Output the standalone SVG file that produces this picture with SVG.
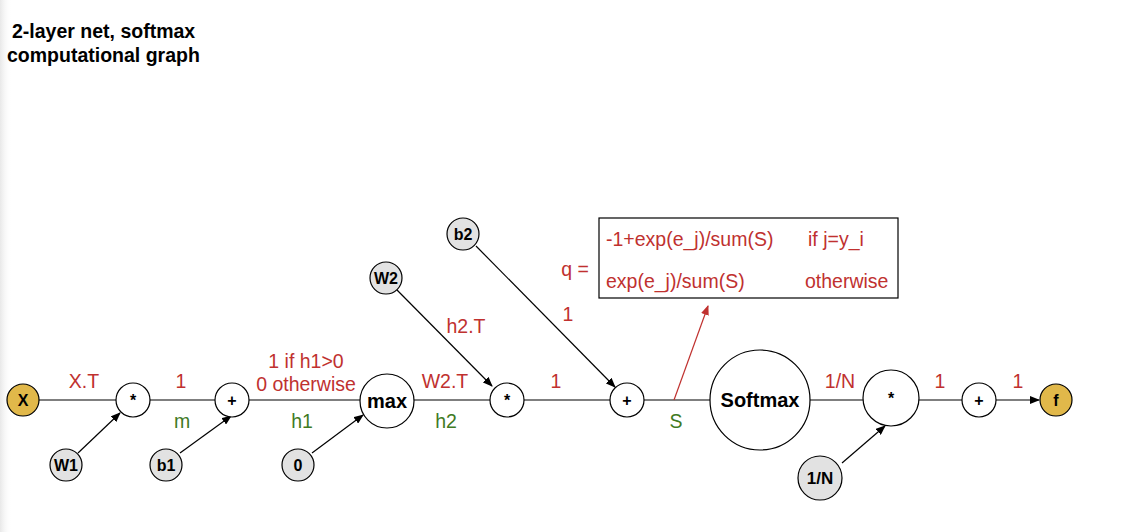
<svg xmlns="http://www.w3.org/2000/svg" width="1141" height="532" viewBox="0 0 1141 532">
<defs>
<marker id="ah" markerWidth="10" markerHeight="8" refX="9" refY="4" orient="auto" markerUnits="userSpaceOnUse"><path d="M0,0 L10,4 L0,8 z" fill="#000"/></marker>
<marker id="ahr" markerWidth="10" markerHeight="8" refX="9" refY="4" orient="auto" markerUnits="userSpaceOnUse"><path d="M0,0 L10,4 L0,8 z" fill="#c0312f"/></marker>
<linearGradient id="lg" x1="0" x2="1" y1="0" y2="0"><stop offset="0" stop-color="#e8e8e8"/><stop offset="1" stop-color="#fff" stop-opacity="0"/></linearGradient>
<style>
.n{stroke:#000;stroke-width:1.2;fill:#fff}
.g{fill:#e2e2e2}
.y{fill:#e1b84a}
.t{font-family:"Liberation Sans",Arial,sans-serif;font-weight:bold;text-anchor:middle;font-size:16px}
.big{font-size:20px}
.mid{font-size:17px}
.l{font-family:"Liberation Sans",Arial,sans-serif;font-size:19.5px;text-anchor:middle}
.s{text-anchor:start}
.r{fill:#c0312f}
.gr{fill:#3f7a1f}
.c{stroke:#000;stroke-width:1.2;fill:none}
</style>
</defs>
<rect width="1141" height="532" fill="#fff"/>
<rect width="12" height="532" fill="url(#lg)"/>
<g id="title" font-family="'Liberation Sans',Arial,sans-serif" font-weight="bold" font-size="19.5">
<text x="12" y="38">2-layer net, softmax</text>
<text x="7" y="62">computational graph</text>
</g>
<g id="connectors">
<line class="c" x1="39" y1="400" x2="116" y2="400"/>
<line class="c" x1="150" y1="400" x2="215" y2="400"/>
<line class="c" x1="249" y1="400" x2="360" y2="400"/>
<line class="c" x1="414" y1="400" x2="490" y2="400"/>
<line class="c" x1="524" y1="400" x2="610" y2="400"/>
<line class="c" x1="644" y1="400" x2="710" y2="400"/>
<line class="c" x1="810" y1="400" x2="863" y2="400"/>
<line class="c" x1="919" y1="400" x2="962" y2="400"/>
<line class="c" x1="996" y1="400" x2="1039" y2="400" marker-end="url(#ah)"/>
<line class="c" x1="78" y1="453" x2="120" y2="413" marker-end="url(#ah)"/>
<line class="c" x1="180" y1="453" x2="231" y2="416" marker-end="url(#ah)"/>
<line class="c" x1="312" y1="453" x2="363" y2="415" marker-end="url(#ah)"/>
<line class="c" x1="397" y1="290" x2="492" y2="386" marker-end="url(#ah)"/>
<line class="c" x1="476" y1="246" x2="615" y2="387" marker-end="url(#ah)"/>
<line class="c" x1="842" y1="463" x2="885" y2="426" marker-end="url(#ah)"/>
<line x1="674" y1="400" x2="708" y2="306" stroke="#c0312f" stroke-width="1.2" marker-end="url(#ahr)"/>
</g>
<g id="X"><circle class="n y" cx="23" cy="400" r="16"/><text class="t" x="23" y="406">X</text></g>
<g id="mul1"><circle class="n" cx="133" cy="400" r="17"/><text class="t" x="133" y="406">*</text></g>
<g id="add1"><circle class="n" cx="232" cy="400" r="17"/><text class="t" x="232" y="406">+</text></g>
<g id="max"><circle class="n" cx="387" cy="401" r="27"/><text class="t big" x="387" y="408">max</text></g>
<g id="mul2"><circle class="n" cx="507" cy="400" r="17"/><text class="t" x="507" y="406">*</text></g>
<g id="add2"><circle class="n" cx="627" cy="400" r="17"/><text class="t" x="627" y="406">+</text></g>
<g id="softmax"><circle class="n" cx="760" cy="400" r="50"/><text class="t big" x="760" y="407">Softmax</text></g>
<g id="mul3"><circle class="n" cx="891" cy="398" r="28"/><text class="t" x="891" y="404">*</text></g>
<g id="add3"><circle class="n" cx="979" cy="400" r="17"/><text class="t" x="979" y="406">+</text></g>
<g id="f"><circle class="n y" cx="1056" cy="400" r="16"/><text class="t" x="1056" y="406">f</text></g>
<g id="W1"><circle class="n g" cx="66" cy="465" r="16"/><text class="t" x="66" y="471">W1</text></g>
<g id="b1"><circle class="n g" cx="166" cy="465" r="16"/><text class="t" x="166" y="471">b1</text></g>
<g id="zero"><circle class="n g" cx="298" cy="465" r="16"/><text class="t" x="298" y="471">0</text></g>
<g id="W2"><circle class="n g" cx="386" cy="278" r="16"/><text class="t" x="386" y="284">W2</text></g>
<g id="b2"><circle class="n g" cx="463" cy="234" r="16"/><text class="t" x="463" y="240">b2</text></g>
<g id="invN"><circle class="n g" cx="820" cy="478" r="22"/><text class="t mid" x="820" y="484">1/N</text></g>
<g id="qbox">
<rect x="599" y="218" width="299" height="80" fill="#fff" stroke="#000" stroke-width="1.2"/>
<text class="l r s" x="606" y="246">-1+exp(e_j)/sum(S)</text>
<text class="l r s" x="808" y="246">if j=y_i</text>
<text class="l r s" x="606" y="288">exp(e_j)/sum(S)</text>
<text class="l r s" x="805" y="288">otherwise</text>
</g>
<g id="labels">
<text class="l r" x="84" y="388">X.T</text>
<text class="l r" x="181" y="388">1</text>
<text class="l r" x="306" y="368">1 if h1&gt;0</text>
<text class="l r" x="306" y="391">0 otherwise</text>
<text class="l r" x="445" y="388">W2.T</text>
<text class="l r" x="466" y="333">h2.T</text>
<text class="l r" x="556" y="388">1</text>
<text class="l r" x="568" y="321">1</text>
<text class="l r" x="575" y="276">q =</text>
<text class="l r" x="840" y="388">1/N</text>
<text class="l r" x="940" y="388">1</text>
<text class="l r" x="1018" y="388">1</text>
<text class="l gr" x="182" y="428">m</text>
<text class="l gr" x="302" y="428">h1</text>
<text class="l gr" x="446" y="428">h2</text>
<text class="l gr" x="676" y="428">S</text>
</g>
</svg>
